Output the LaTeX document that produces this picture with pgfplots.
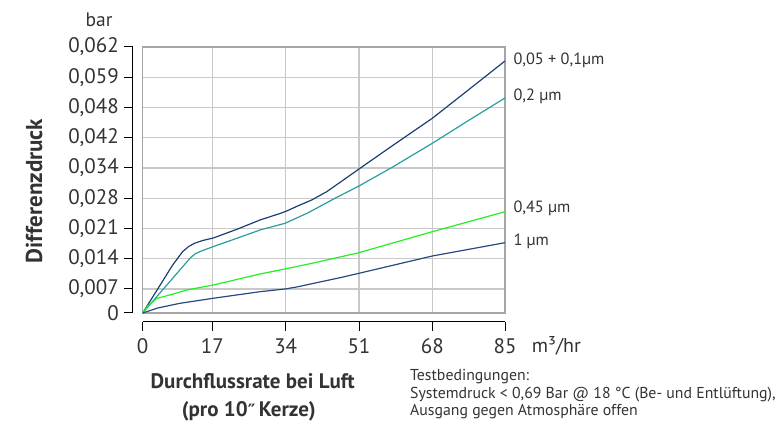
\documentclass[border=0pt]{standalone}
\usepackage{fontspec}
\setmainfont{PT Sans}
\newfontfamily\dejavu{DejaVu Sans}
\usepackage{pgfplots}
\pgfplotsset{compat=1.18}
\definecolor{cA}{HTML}{1B3F73}
\definecolor{cB}{HTML}{2A9D9F}
\definecolor{cC}{HTML}{22F022}
\definecolor{cD}{HTML}{274A80}
\definecolor{gridc}{HTML}{C8C8C8}
\definecolor{borderc}{HTML}{A6A6A6}
\definecolor{txt}{HTML}{333333}
\begin{document}
\begin{tikzpicture}
% plot area (units: 1 unit = 1 pt)
\begin{axis}[x=1pt, y=1pt, xmin=0, xmax=362.3, ymin=0, ymax=266,
  axis line style={borderc, line width=1.6pt},
  xtick={69.6,143,216.3,289.6}, ytick={24,54.25,84.5,114.75,145,175.25,205.5,235.75},
  xticklabels={}, yticklabels={}, major tick length=0pt, tick style={draw=none},
  grid=major, grid style={gridc, line width=1.3pt}, clip=false]
% 0,05 + 0,1 um
\addplot[cA, line width=1.2pt] coordinates {(0,0) (10,16) (20,32) (30,48) (40,61.5) (46,66.5) (52,69.8) (60,72.5) (70.6,75) (95,84) (117.3,93) (137.3,99.5) (144,102) (155,107) (169,113) (184,121.3) (200,132.5) (216.3,144) (250,167.5) (289.6,194.7) (325.6,223) (362.3,252)};
% 0,2 um
\addplot[cB, line width=1.2pt] coordinates {(0,0) (25,29) (48,55.5) (53,59.5) (60,62.5) (70.3,66.3) (95,75) (117.3,83) (142.3,89.7) (165,100) (192.3,114.7) (216.3,127) (250,146) (289.6,169.7) (325,192) (362.3,215)};
% 0,45 um
\addplot[cC, line width=1.2pt] coordinates {(0,0) (5,7) (14,14.5) (30.6,19) (44,23) (70.6,28) (117.3,39) (142.3,44) (170.6,50) (216.3,60.3) (289.6,81.3) (362.3,101.3)};
% 1 um
\addplot[cD, line width=1.2pt] coordinates {(0,0) (15,5) (37.3,9.7) (70.3,14.7) (117.3,21.3) (142.3,24) (154,26) (197.3,35.3) (216.3,39.7) (289.6,57) (362.3,70.3)};
\end{axis}
% offset axis lines with ticks
\begin{axis}[x=1pt, y=1pt, xmin=0, xmax=362.3, ymin=0, ymax=266,
  axis lines*=left, axis x line shift=9pt, axis y line shift=9.7pt,
  axis line style={black, line width=1pt}, tick style={black, line width=1pt},
  tick align=outside, major tick length=9pt,
  xtick={0,69.6,143,216.3,289.6,362.3}, xticklabels={0,17,34,51,68,85},
  ytick={0,24,54.25,84.5,114.75,145,175.25,205.5,235.75,266},
  yticklabels={0,{0,007},{0,014},{0,021},{0,028},{0,034},{0,042},{0,048},{0,059},{0,062}},
  ticklabel style={font=\fontsize{21}{21}\selectfont, text=txt},
  yticklabel style={inner sep=0pt, xshift=-5pt},
  xticklabel style={inner sep=0pt, yshift=-7pt},
  /pgf/number format/assume math mode=true]
\addplot[draw=none] coordinates {(0,0)};
\end{axis}
\node[font=\fontsize{19.5}{19.5}\selectfont, text=txt] at (-43.7pt,293pt) {bar};
\node[font=\fontsize{23}{23}\selectfont\bfseries, text=txt, rotate=90] at (-108.7pt,122pt) {Differenzdruck};
\node[font=\fontsize{20}{20}\selectfont, text=txt, anchor=west, inner sep=0pt] at (389pt,-33pt) {m³/hr};
\begin{scope}[every node/.style={font=\fontsize{16.3}{16.3}\selectfont, text=txt, anchor=west, inner sep=0pt}]
\node at (370.6pt,253pt) {0,05 + 0,1µm};
\node at (370.6pt,216.3pt) {0,2 µm};
\node at (370.6pt,105pt) {0,45 µm};
\node at (370.6pt,71.3pt) {1 µm};
\end{scope}
\node[font=\fontsize{21}{21}\selectfont\bfseries, text=txt] at (110pt,-68pt) {Durchflussrate bei Luft};
\node[font=\fontsize{21}{21}\selectfont\bfseries, text=txt] at (106pt,-98pt) {(pro 10{\dejavu\fontsize{17}{17}\selectfont ″}\,Kerze)};
\begin{scope}[every node/.style={font=\fontsize{15.8}{15.8}\selectfont, text=txt, anchor=west, inner sep=0pt}]
\node at (267.3pt,-64pt) {Testbedingungen:};
\node at (267.3pt,-82pt) {Systemdruck < 0,69 Bar @ 18 °C (Be- und Entlüftung),};
\node at (267.3pt,-99pt) {Ausgang gegen Atmosphäre offen};
\end{scope}
\pgfresetboundingbox
\useasboundingbox (-142.7pt,-112pt) rectangle (637.3pt,313pt);
\end{tikzpicture}
\end{document}
